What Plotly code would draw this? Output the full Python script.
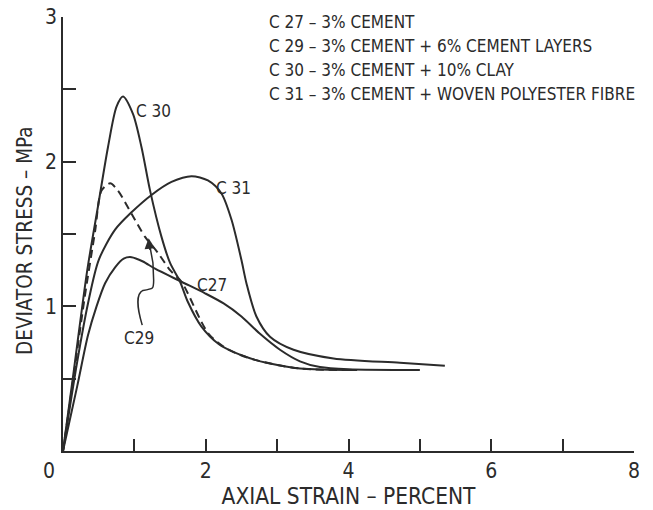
import plotly.graph_objects as go

# ---- data (axial strain %, deviator stress MPa) ----
c27_x = [0, 0.2, 0.35, 0.47, 0.59, 0.73, 0.85, 0.96, 1.12, 1.29, 1.66, 1.99, 2.25, 2.5, 2.76, 3.04, 3.32, 3.6, 4.0, 5.0]
c27_y = [0, 0.45, 0.8, 1.0, 1.16, 1.27, 1.33, 1.34, 1.31, 1.26, 1.17, 1.09, 1.02, 0.93, 0.81, 0.70, 0.62, 0.58, 0.565, 0.56]

c29_x = [0, 0.15, 0.3, 0.45, 0.54, 0.66, 0.77, 0.96, 1.15, 1.33, 1.50, 1.66, 2.04, 2.32, 2.69, 3.32, 4.12]
c29_y = [0, 0.52, 1.05, 1.52, 1.80, 1.85, 1.80, 1.64, 1.48, 1.37, 1.25, 1.17, 0.81, 0.70, 0.63, 0.57, 0.56]

c30_x = [0, 0.15, 0.34, 0.49, 0.63, 0.75, 0.84, 0.98, 1.10, 1.22, 1.38, 1.50, 1.64, 1.75, 1.94, 2.18, 2.41, 2.69, 2.85, 3.32, 4.12]
c30_y = [0, 0.55, 1.25, 1.69, 2.10, 2.38, 2.45, 2.33, 2.10, 1.80, 1.48, 1.30, 1.17, 1.03, 0.86, 0.74, 0.68, 0.63, 0.61, 0.57, 0.56]

c31_x = [0, 0.2, 0.35, 0.5, 0.73, 0.96, 1.24, 1.52, 1.80, 2.03, 2.22, 2.36, 2.50, 2.57, 2.71, 2.90, 3.23, 3.79, 4.72, 5.35]
c31_y = [0, 0.62, 1.02, 1.32, 1.53, 1.65, 1.77, 1.86, 1.90, 1.87, 1.78, 1.60, 1.32, 1.16, 0.93, 0.79, 0.70, 0.64, 0.61, 0.59]

x_tick_vals = [1, 2, 3, 4, 5, 6, 7, 8]
x_tick_text = ["", "2", "", "4", "", "6", "", "8"]
y_tick_vals = [0, 0.5, 1, 1.5, 2, 2.5, 3]
y_tick_text = ["", "", "1", "", "2", "", "3"]

legend_lines = [
    "C 27 – 3% CEMENT",
    "C 29 – 3% CEMENT + 6% CEMENT LAYERS",
    "C 30 – 3% CEMENT + 10% CLAY",
    "C 31 – 3% CEMENT + WOVEN POLYESTER FIBRE",
]

FONT = "Liberation Sans Narrow, DejaVu Sans Condensed, DejaVu Sans, sans-serif"
INK = "#2b2b2b"

fig = go.Figure()
for xs, ys, dash in [(c27_x, c27_y, "solid"), (c29_x, c29_y, "8px,5px"),
                     (c30_x, c30_y, "solid"), (c31_x, c31_y, "solid")]:
    fig.add_trace(go.Scatter(x=xs, y=ys, mode="lines",
                             line=dict(color=INK, width=2, dash=dash, shape="spline", smoothing=0.8),
                             showlegend=False, hoverinfo="skip"))

# curve labels
for txt, x, y in [("C 30", 1.27, 2.35), ("C 31", 2.39, 1.82), ("C27", 2.09, 1.15), ("C29", 1.07, 0.78)]:
    fig.add_annotation(x=x, y=y, text=txt, showarrow=False,
                       font=dict(family=FONT, size=17, color=INK))

# C29 wavy leader line
fig.add_shape(type="path",
              path="M 1.11,0.87 C 1.03,1.0 1.03,1.09 1.12,1.11 C 1.27,1.12 1.27,1.12 1.27,1.18 L 1.26,1.30 L 1.22,1.41",
              line=dict(color=INK, width=1.5), xref="x", yref="y")
fig.add_annotation(x=1.20, y=1.47, ax=1.22, ay=1.38, axref="x", ayref="y",
                   showarrow=True, arrowhead=2, arrowsize=1.4, arrowwidth=1.5, arrowcolor=INK, text="")

# legend text block
for i, line in enumerate(legend_lines):
    fig.add_annotation(xref="paper", yref="paper", x=0.357, y=0.989 - i * 0.0555,
                       xanchor="left", yanchor="middle", text=line, showarrow=False,
                       font=dict(family=FONT, size=17, color=INK))

# origin label
fig.add_annotation(x=0, y=0, text="0", showarrow=False, xshift=-14, yshift=-20,
                   font=dict(family=FONT, size=21, color=INK))

# y axis title (placed to match reference position)
fig.add_annotation(xref="paper", yref="paper", x=-0.0665, y=0.484, textangle=-90,
                   xanchor="center", yanchor="middle", showarrow=False,
                   text="DEVIATOR STRESS – MPa", font=dict(family=FONT, size=20.5, color=INK))

fig.update_xaxes(range=[0, 8], tickvals=x_tick_vals, ticktext=x_tick_text, automargin=False,
                 ticks="inside", ticklen=12, tickwidth=1.5, tickcolor=INK,
                 showline=True, linecolor=INK, linewidth=1.5, showgrid=False, zeroline=False,
                 tickfont=dict(family=FONT, size=21, color=INK),
                 title=dict(text="AXIAL STRAIN – PERCENT", font=dict(family=FONT, size=22.5, color=INK), standoff=4))
fig.update_yaxes(range=[0, 3], tickvals=y_tick_vals, ticktext=y_tick_text, automargin=False,
                 ticks="inside", ticklen=13, tickwidth=1.5, tickcolor=INK,
                 showline=True, linecolor=INK, linewidth=1.5, showgrid=False, zeroline=False,
                 tickfont=dict(family=FONT, size=21, color=INK))

fig.update_layout(width=653, height=510, margin=dict(l=63, r=19, t=17, b=59),
                  plot_bgcolor="white", paper_bgcolor="white")
fig.write_html("out.html", config={"displayModeBar": False},
               post_script="document.body.style.margin='0';document.body.style.overflow='hidden';")
